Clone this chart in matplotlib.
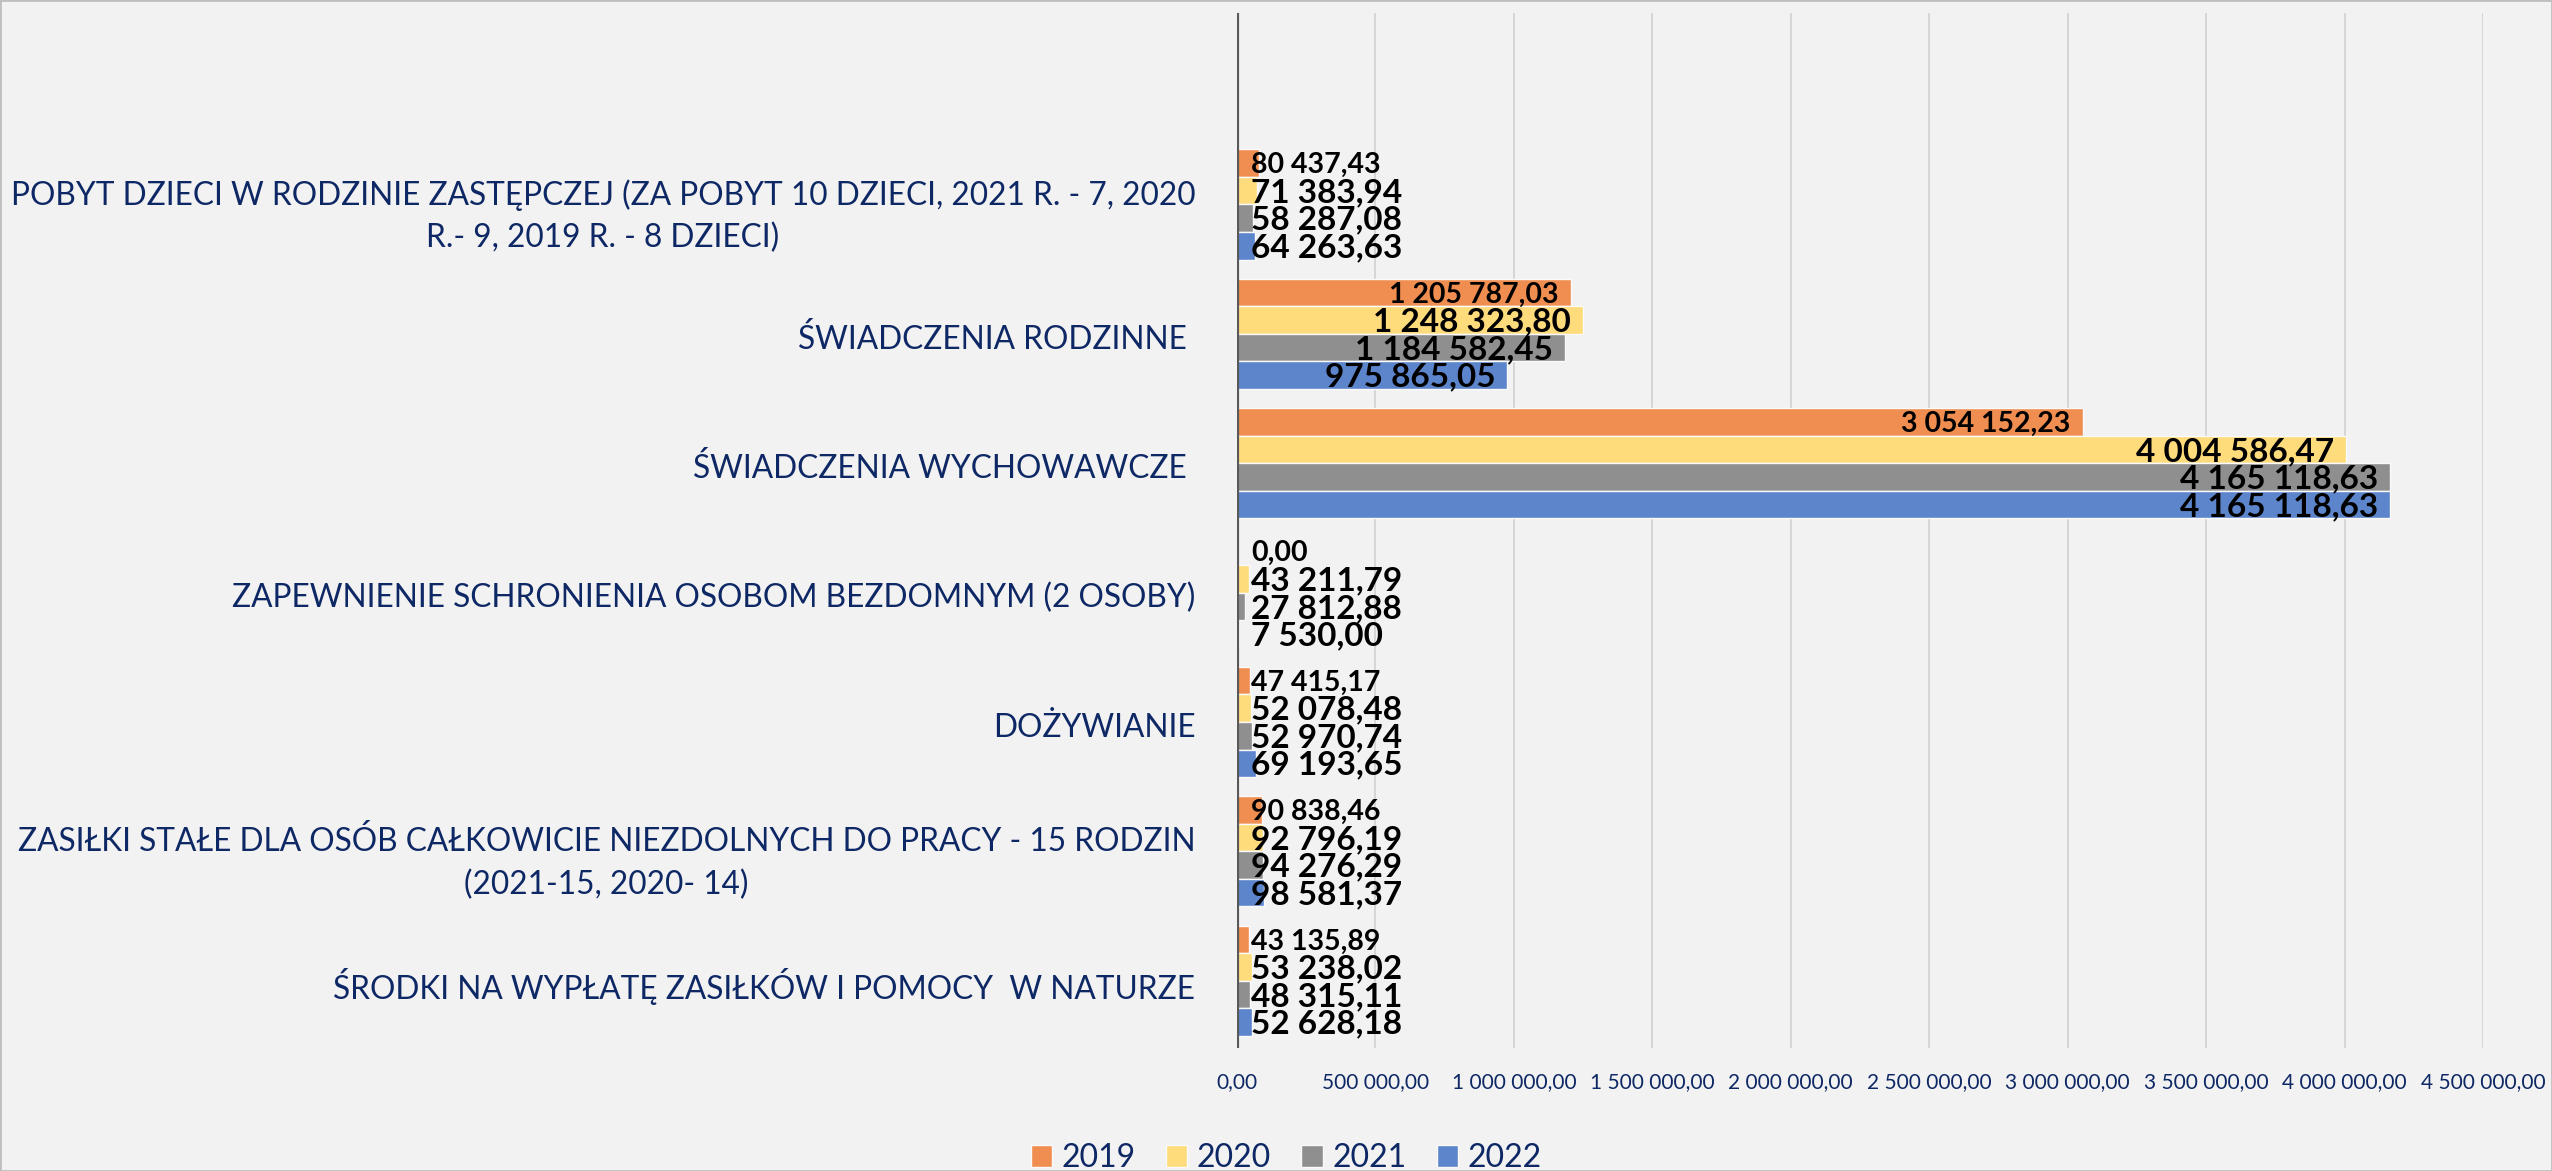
import numpy as np
import matplotlib
matplotlib.use('Agg')
import matplotlib.pyplot as plt
from matplotlib.patches import Patch, Rectangle
from matplotlib.ticker import FuncFormatter

# kategorie od gory do dolu
kategorie = ['POBYT DZIECI W RODZINIE ZASTĘPCZEJ (ZA POBYT 10 DZIECI, 2021 R. - 7, 2020\nR.- 9, 2019 R. - 8 DZIECI)',
             'ŚWIADCZENIA RODZINNE ',
             'ŚWIADCZENIA WYCHOWAWCZE ',
             'ZAPEWNIENIE SCHRONIENIA OSOBOM BEZDOMNYM (2 OSOBY)',
             'DOŻYWIANIE',
             'ZASIŁKI STAŁE DLA OSÓB CAŁKOWICIE NIEZDOLNYCH DO PRACY - 15 RODZIN\n(2021-15, 2020- 14)',
             'ŚRODKI NA WYPŁATĘ ZASIŁKÓW I POMOCY  W NATURZE']
lata = ['2019', '2020', '2021', '2022']
v2019 = [80437.43, 1205787.03, 3054152.23, 0.00, 47415.17, 90838.46, 43135.89]
v2020 = [71383.94, 1248323.80, 4004586.47, 43211.79, 52078.48, 92796.19, 53238.02]
v2021 = [58287.08, 1184582.45, 4165118.63, 27812.88, 52970.74, 94276.29, 48315.11]
v2022 = [64263.63, 975865.05, 4165118.63, 7530.00, 69193.65, 98581.37, 52628.18]
x_ticks = [0, 500000, 1000000, 1500000, 2000000, 2500000, 3000000, 3500000, 4000000, 4500000]

kolory = ['#EF8E50', '#FEDB7B', '#8F8F8F', '#5D85CB']
granat = '#0E2865'
bg = '#F2F2F2'


def pl_fmt(v, pos=None):
    s = '{:,.2f}'.format(v)
    return s.replace(',', ' ').replace('.', ',')


plt.rcParams['font.family'] = ['Lato', 'DejaVu Sans']

fig = plt.figure(figsize=(25.52, 11.71), dpi=100, facecolor=bg)
ax = fig.add_axes([0.4847, 0.105, 0.4883, 0.884])
ax.set_facecolor(bg)

n = len(kategorie)
y = np.arange(n)[::-1]   # pierwsza kategoria na gorze
h = 0.213
serie = [v2019, v2020, v2021, v2022]
for i, (vals, c) in enumerate(zip(serie, kolory)):
    yy = y + (1.5 - i) * h + 0.02
    ax.barh(yy, vals, height=h, color=c, edgecolor='#FAFAFA', linewidth=1, zorder=2)
    fs = 20.5 if i == 0 else 24
    for yv, v in zip(yy, vals):
        if v > 400000:
            ax.annotate(pl_fmt(v), (v, yv), xytext=(-12, -2), textcoords='offset pixels',
                        ha='right', va='center', fontsize=fs, fontweight='bold', color='black', zorder=4)
        else:
            ax.annotate(pl_fmt(v), (0, yv), xytext=(14, -2), textcoords='offset pixels',
                        ha='left', va='center', fontsize=fs, fontweight='bold', color='black', zorder=4)

ax.set_xlim(0, 4500000)
ax.set_ylim(-0.5, n + 0.5)   # pusty slot na gorze
ax.set_xticks(x_ticks)
ax.xaxis.set_major_formatter(FuncFormatter(pl_fmt))
ax.set_yticks(y)
ax.set_yticklabels(kategorie, fontsize=22.8, color=granat, multialignment='center', linespacing=1.5)
ax.tick_params(axis='x', length=0, pad=17, labelsize=15, labelcolor=granat)
ax.tick_params(axis='y', length=0, pad=30)
ax.grid(axis='x', color='#D4D4D4', lw=1.3, zorder=0)
for s in ax.spines.values():
    s.set_visible(False)
ax.axvline(0, color='#595959', lw=3, zorder=3)

handles = [Patch(facecolor=c, edgecolor='#FAFAFA', label=l) for c, l in zip(kolory, lata)]
fig.legend(handles=handles, loc='center', bbox_to_anchor=(0.504, 0.011), ncol=4, frameon=False,
           fontsize=23, labelcolor=granat, handlelength=0.66, handleheight=0.66,
           handletextpad=0.3, columnspacing=0.95)

# ramka wokol calego wykresu
fig.patches.append(Rectangle((0, 0), 1, 1, transform=fig.transFigure, fill=False,
                             edgecolor='#BFBFBF', lw=2))

fig.savefig('out.png', dpi=100, facecolor=bg)
